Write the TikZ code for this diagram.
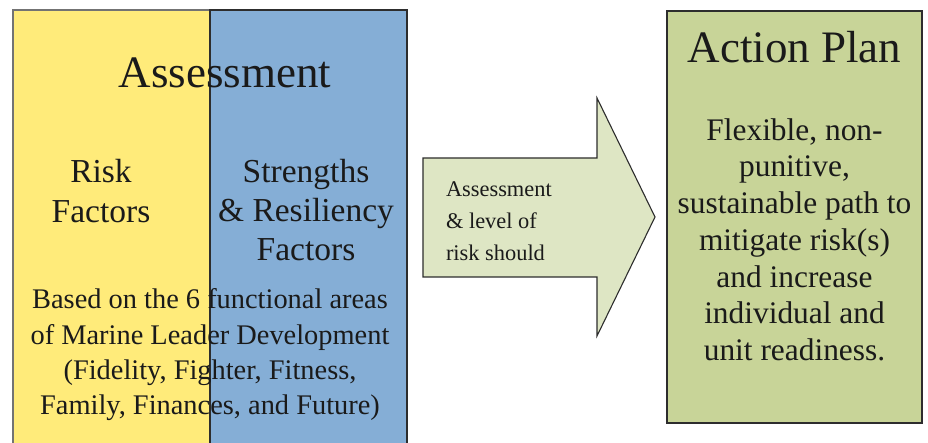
\documentclass[tikz,border=0pt]{standalone}
\usepackage{fontspec}
\setmainfont{LiberationSerif}[Extension=.ttf, UprightFont=*-Regular, BoldFont=*-Bold, ItalicFont=*-Italic, BoldItalicFont=*-BoldItalic]
\definecolor{riskyellow}{RGB}{255,235,122}
\definecolor{strengthblue}{RGB}{133,174,214}
\definecolor{arrowgreen}{RGB}{222,230,196}
\definecolor{plangreen}{RGB}{200,212,152}
\definecolor{ink}{RGB}{26,26,26}
\definecolor{edge}{RGB}{45,45,45}
\tikzset{
  panel/.style={draw=edge, line width=1.1pt, anchor=north west, inner sep=0pt, outer sep=0pt},
  caption/.style={text=ink, inner sep=0pt, outer sep=0pt},
  fs/.style n args={2}{font=\fontsize{#1}{#2}\selectfont}
}
\begin{document}
\begin{tikzpicture}[x=1pt,y=-1pt]
  \useasboundingbox (0,0) rectangle (928,443);

  % assessment panels
  \node[panel, draw=black!55, fill=riskyellow, minimum width=197pt, minimum height=440pt] (riskpanel) at (13,10) {};
  \node[panel, fill=strengthblue, minimum width=197pt, minimum height=440pt] (strengthpanel) at (210,10) {};

  \node[caption, fs={45}{52}, anchor=base] (assesstitle) at (225,88) {Assessment};
  \node[caption, fs={33.5}{40}, align=center, anchor=north] (risktext) at (101,159) {Risk\\Factors};
  \node[caption, fs={33.5}{39}, align=center, anchor=north] (strengthtext) at (306,159) {Strengths\\\& Resiliency\\Factors};
  \node[caption, fs={28.4}{35.3}, align=center, anchor=north] (areastext) at (210,289)
    {Based on the 6 functional areas\\of Marine Leader Development\\(Fidelity, Fighter, Fitness,\\Family, Finances, and Future)};

  % block arrow
  \draw[draw=edge, line width=1.1pt, fill=arrowgreen, line join=miter]
    (423,158) -- (597,158) -- (597,98) -- (655,217) -- (597,336) -- (597,277) -- (423,277) -- cycle;
  \node[caption, fs={22.4}{32}, align=left, anchor=north west] (arrowtext) at (446,182)
    {Assessment\\\& level of\\risk should};

  % action plan panel
  \node[panel, fill=plangreen, minimum width=255pt, minimum height=412pt] (planpanel) at (667,11) {};
  \node[caption, fs={45}{52}, anchor=base] (plantitle) at (794.5,63) {Action Plan};
  \node[caption, fs={31.4}{36.7}, align=center, anchor=north] (plantext) at (794.5,118.5)
    {Flexible, non-\\punitive,\\sustainable path to\\mitigate risk(s)\\and increase\\individual and\\unit readiness.};
\end{tikzpicture}
\end{document}
